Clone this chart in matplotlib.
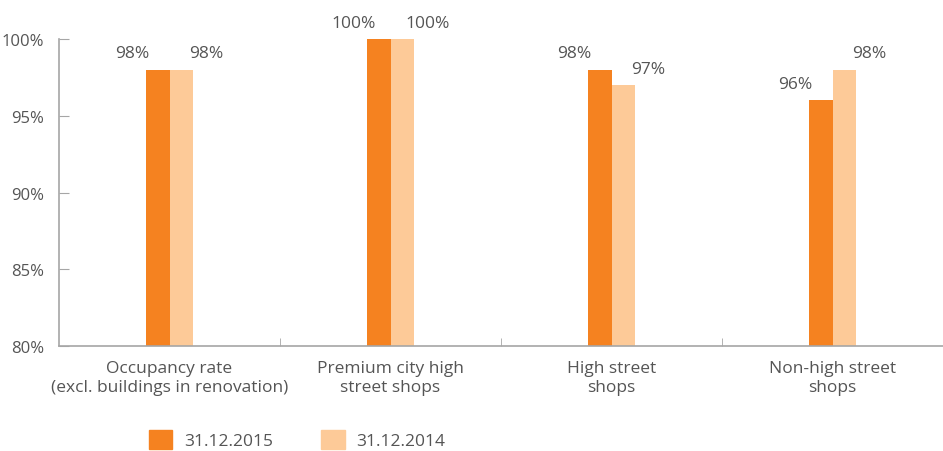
import matplotlib
matplotlib.use("Agg")
import matplotlib.pyplot as plt
import numpy as np
from matplotlib.patches import Patch

# ── Data ──────────────────────────────────────────────────────
categories = ["Occupancy rate\n(excl. buildings in renovation)",
              "Premium city high\nstreet shops",
              "High street\nshops",
              "Non-high street\nshops"]
vals_2015 = [98, 100, 98, 96]
vals_2014 = [98, 100, 97, 98]
series_names = ["31.12.2015", "31.12.2014"]
y_ticks = [80, 85, 90, 95, 100]

# ── Style ─────────────────────────────────────────────────────
DARK  = "#F58220"
LIGHT = "#FDCA98"
TEXT  = "#555555"
AXIS  = "#A6A6A6"
FS    = 12.5
plt.rcParams["font.family"] = ["Open Sans", "DejaVu Sans"]

fig = plt.figure(figsize=(9.43, 4.52), dpi=100)
ax = fig.add_axes([0.0626, 0.2323, 0.9374, 0.6792])

x = np.arange(len(categories))
w = 0.108
ax.bar(x - w / 2, vals_2015, w, color=DARK)
ax.bar(x + w / 2, vals_2014, w, color=LIGHT)

for xi, v in zip(x, vals_2015):
    ax.text(xi - w * 1.55, v + 0.55, f"{v}%", ha="center", va="bottom",
            fontsize=FS, color=TEXT)
for xi, v in zip(x, vals_2014):
    ax.text(xi + w * 1.55, v + 0.55, f"{v}%", ha="center", va="bottom",
            fontsize=FS, color=TEXT)

ax.set_xlim(-0.5, 3.5)
ax.set_ylim(80, 100)
ax.set_yticks(y_ticks)
ax.set_yticklabels([f"{t}%" for t in y_ticks])
ax.set_xticks(x)
ax.set_xticklabels(categories, linespacing=1.25)
ax.tick_params(axis="x", length=0, pad=10, labelsize=FS, labelcolor=TEXT)
ax.tick_params(axis="y", direction="in", length=7, color=AXIS, pad=11,
               labelsize=12, labelcolor=TEXT)
# separators between categories
ax.set_xticks([0.5, 1.5, 2.5], minor=True)
ax.tick_params(axis="x", which="minor", direction="in", length=6, color=AXIS)

for s in ["top", "right"]:
    ax.spines[s].set_visible(False)
for s in ["left", "bottom"]:
    ax.spines[s].set_color(AXIS)
    ax.spines[s].set_linewidth(1.2)

handles = [Patch(color=DARK), Patch(color=LIGHT)]
fig.legend(handles, series_names, loc="lower left",
           bbox_to_anchor=(147 / 943, 0.0), ncol=2, frameon=False,
           borderpad=0.1, borderaxespad=0,
           handlelength=1.35, handleheight=1.35, handletextpad=0.7,
           columnspacing=2.75, prop={"size": FS}, labelcolor=TEXT)

fig.savefig("out.png", dpi=100)
